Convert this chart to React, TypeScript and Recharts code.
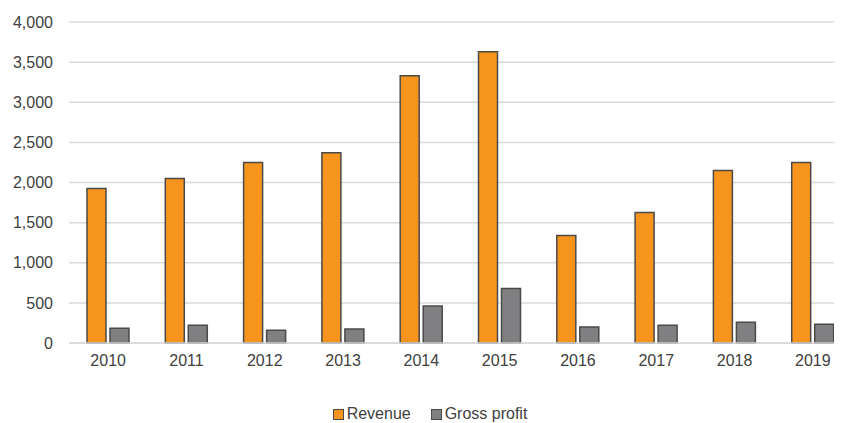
import React from 'react';
import { BarChart, Bar, XAxis, YAxis, CartesianGrid, Legend } from 'recharts';

const years = ['2010', '2011', '2012', '2013', '2014', '2015', '2016', '2017', '2018', '2019'];
const revenue = [1925, 2050, 2250, 2370, 3330, 3630, 1340, 1625, 2150, 2250];
const grossProfit = [185, 220, 160, 175, 460, 680, 200, 220, 260, 235];
const yTicks = [0, 500, 1000, 1500, 2000, 2500, 3000, 3500, 4000];

const data = years.map((year, i) => ({
  year,
  revenue: revenue[i],
  grossProfit: grossProfit[i],
}));

const ORANGE = '#F7941D';
const GREY = '#808083';
const EDGE = '#4a4a4a';
const TEXT = '#404040';
const FONT = '"Liberation Sans", Arial, sans-serif';

const legendItems = [
  { label: 'Revenue', color: ORANGE },
  { label: 'Gross profit', color: GREY },
];

const renderLegend = () => (
  <div
    style={{
      display: 'flex',
      justifyContent: 'center',
      gap: 20,
      paddingTop: 33,
      fontFamily: FONT,
      fontSize: 16,
      lineHeight: '16px',
      color: TEXT,
    }}
  >
    {legendItems.map((item) => (
      <div key={item.label} style={{ display: 'flex', alignItems: 'center' }}>
        <span
          style={{
            display: 'inline-block',
            width: 9,
            height: 9,
            background: item.color,
            border: `1px solid ${EDGE}`,
            marginRight: 3,
          }}
        />
        <span>{item.label}</span>
      </div>
    ))}
  </div>
);

export default function App() {
  return (
    <div style={{ width: 834, height: 415, overflow: 'hidden' }}>
      <BarChart
        width={850}
        height={440}
        data={data}
        margin={{ top: 14, right: 6, bottom: 5, left: 0 }}
        barSize={19}
        barGap={4}
      >
        <CartesianGrid vertical={false} stroke="#d9d9d9" strokeWidth={1.5} />
        <XAxis
          dataKey="year"
          height={30}
          axisLine={{ stroke: '#d9d9d9', strokeWidth: 1.5 }}
          tickLine={false}
          tickMargin={6}
          tick={{ fill: TEXT, fontSize: 16, fontFamily: FONT }}
        />
        <YAxis
          width={61}
          domain={[0, 4000]}
          ticks={yTicks}
          axisLine={false}
          tickLine={false}
          tickMargin={10}
          tickFormatter={(v: number) => v.toLocaleString('en-US')}
          tick={{ fill: TEXT, fontSize: 16, fontFamily: FONT }}
        />
        <Legend verticalAlign="bottom" height={70} content={renderLegend} />
        <Bar
          dataKey="revenue"
          name="Revenue"
          fill={ORANGE}
          stroke={EDGE}
          strokeWidth={1.5}
          isAnimationActive={false}
        />
        <Bar
          dataKey="grossProfit"
          name="Gross profit"
          fill={GREY}
          stroke={EDGE}
          strokeWidth={1.5}
          isAnimationActive={false}
        />
      </BarChart>
    </div>
  );
}
